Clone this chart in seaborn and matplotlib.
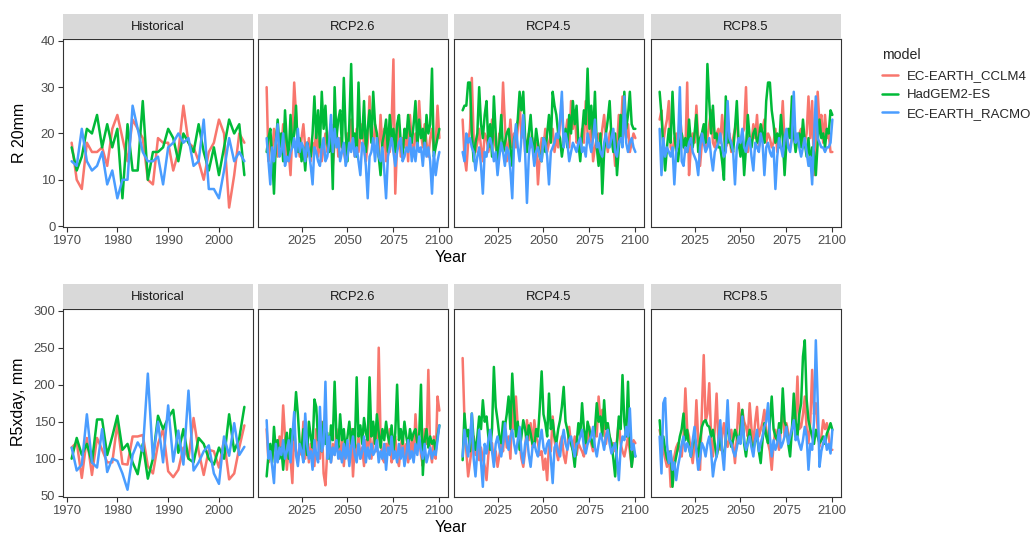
import numpy as np
import pandas as pd
import matplotlib
matplotlib.use("Agg")
import matplotlib.pyplot as plt
import seaborn as sns
from matplotlib.lines import Line2D

# ---------------- data ----------------
models = ["EC-EARTH_CCLM4", "HadGEM2-ES", "EC-EARTH_RACMO"]
scenarios = ["Historical", "RCP2.6", "RCP4.5", "RCP8.5"]
variables = ["R 20mm", "R5xday, mm"]
hist_years = list(range(1971, 2006))
fut_years = list(range(2006, 2101))

# R 20mm ----------------------------------------------------------
r20_hist_cclm4 = [18, 10, 8, 18, 16, 16, 17, 13, 21, 24, 19, 14, 23, 21, 19, 10, 9, 19, 18, 18,
                  12, 16, 26, 18, 17, 14, 10, 16, 18, 23, 20, 4, 11, 20, 18]
r20_hist_hadgem = [17, 12, 15, 21, 20, 24, 17, 22, 17, 21, 6, 22, 12, 12, 27, 10, 16, 16, 17, 21,
                   19, 14, 20, 18, 16, 22, 16, 12, 17, 11, 17, 23, 20, 22, 11]
r20_hist_racmo = [14, 13, 21, 14, 12, 13, 16, 9, 12, 6, 10, 10, 26, 21, 16, 14, 14, 15, 9, 17,
                  18, 20, 18, 19, 13, 14, 23, 8, 8, 6, 12, 19, 14, 16, 14]

r20_rcp26_cclm4 = [30, 14, 19, 16, 21, 18, 15, 20, 17, 22,
                   18, 14, 16, 11, 20, 31, 24, 18, 15, 19,
                   22, 17, 15, 19, 14, 18, 16, 21, 15, 19,
                   14, 17, 20, 16, 19, 22, 13, 18, 21, 15,
                   19, 17, 16, 14, 20, 17, 23, 18, 15, 21,
                   16, 19, 22, 17, 14, 18, 28, 20, 17, 22,
                   19, 15, 24, 17, 21, 14, 19, 16, 22, 36,
                   7, 18, 22, 15, 19, 17, 21, 14, 24, 18,
                   16, 20, 19, 27, 20, 17, 22, 18, 15, 19,
                   21, 16, 18, 26, 19]
r20_rcp26_hadgem = [16, 19, 21, 15, 7, 18, 23, 17, 20, 14,
                    25, 18, 15, 24, 17, 20, 26, 16, 19, 14,
                    17, 12, 18, 16, 15, 20, 28, 19, 25, 17,
                    29, 21, 26, 18, 16, 22, 8, 30, 19, 23,
                    25, 17, 32, 20, 14, 22, 35, 18, 20, 15,
                    31, 19, 19, 27, 16, 21, 25, 18, 29, 22,
                    20, 15, 11, 18, 20, 23, 16, 24, 19, 21,
                    16, 22, 24, 18, 15, 21, 19, 24, 20, 18,
                    22, 27, 17, 23, 19, 21, 16, 24, 20, 22,
                    34, 15, 17, 19, 21]
r20_rcp26_racmo = [19, 14, 9, 17, 14, 18, 22, 15, 16, 20,
                   13, 15, 14, 16, 17, 19, 15, 21, 16, 18,
                   17, 14, 18, 16, 13, 9, 17, 16, 14, 13,
                   17, 19, 14, 15, 18, 24, 16, 21, 17, 19,
                   14, 16, 18, 13, 15, 18, 16, 19, 15, 17,
                   14, 11, 18, 17, 13, 6, 15, 16, 19, 14,
                   19, 15, 14, 17, 12, 6, 15, 17, 19, 16,
                   13, 16, 18, 19, 14, 15, 17, 16, 19, 14,
                   17, 14, 18, 16, 17, 13, 18, 15, 17, 14,
                   7, 16, 11, 14, 16]

r20_rcp45_cclm4 = [23, 15, 12, 18, 21, 32, 19, 16, 18, 21,
                   17, 14, 20, 19, 16, 18, 23, 19, 17, 15,
                   20, 19, 31, 22, 14, 18, 23, 17, 20, 17,
                   21, 27, 19, 22, 16, 18, 20, 17, 19, 14,
                   18, 9, 15, 19, 17, 21, 16, 18, 20, 21,
                   16, 19, 17, 22, 27, 18, 20, 23, 17, 27,
                   21, 25, 18, 19, 16, 21, 18, 27, 20, 18,
                   22, 14, 17, 19, 20, 17, 21, 24, 19, 16,
                   20, 21, 18, 13, 17, 24, 19, 28, 21, 19,
                   22, 16, 18, 20, 19]
r20_rcp45_hadgem = [25, 26, 26, 31, 31, 20, 14, 18, 20, 30,
                    22, 19, 24, 27, 17, 22, 15, 28, 20, 13,
                    18, 24, 16, 18, 20, 21, 17, 13, 19, 20,
                    23, 29, 25, 29, 19, 16, 20, 24, 18, 16,
                    21, 18, 15, 14, 19, 16, 20, 24, 18, 29,
                    26, 24, 20, 19, 15, 18, 21, 17, 24, 20,
                    27, 22, 26, 18, 14, 20, 25, 22, 34, 21,
                    26, 19, 29, 17, 13, 20, 7, 16, 20, 23,
                    27, 19, 16, 20, 11, 17, 24, 18, 29, 21,
                    24, 29, 22, 21, 21]
r20_rcp45_racmo = [16, 14, 20, 18, 19, 17, 16, 12, 15, 17,
                   13, 7, 16, 15, 18, 19, 17, 14, 16, 11,
                   15, 18, 16, 13, 17, 16, 12, 6, 18, 22,
                   17, 14, 19, 24, 16, 5, 15, 19, 17, 13,
                   16, 17, 15, 14, 19, 18, 15, 9, 16, 17,
                   18, 20, 19, 23, 29, 17, 20, 18, 14, 16,
                   18, 17, 16, 18, 19, 16, 17, 15, 20, 18,
                   16, 19, 23, 17, 18, 16, 15, 18, 20, 17,
                   17, 19, 21, 16, 15, 18, 19, 17, 28, 18,
                   16, 18, 19, 17, 16]

r20_rcp85_cclm4 = [23, 25, 18, 21, 23, 27, 17, 16, 19, 20,
                   18, 24, 20, 18, 16, 31, 11, 17, 20, 18,
                   26, 19, 13, 18, 21, 17, 19, 22, 25, 18,
                   17, 20, 21, 18, 24, 19, 17, 18, 20, 16,
                   19, 21, 23, 17, 18, 20, 21, 30, 16, 19,
                   18, 22, 19, 24, 17, 19, 21, 23, 18, 20,
                   19, 17, 18, 21, 16, 19, 20, 27, 18, 20,
                   17, 17, 19, 23, 18, 19, 20, 21, 17, 18,
                   20, 28, 19, 27, 11, 20, 29, 22, 24, 18,
                   24, 19, 20, 16, 16]
r20_rcp85_hadgem = [29, 24, 17, 12, 17, 21, 18, 29, 20, 16,
                    14, 18, 20, 17, 19, 16, 23, 18, 17, 20,
                    24, 16, 19, 20, 22, 18, 35, 27, 20, 26,
                    19, 20, 17, 17, 14, 10, 28, 18, 19, 17,
                    16, 21, 27, 18, 15, 19, 11, 17, 24, 19,
                    17, 20, 21, 18, 19, 22, 20, 18, 27, 31,
                    31, 25, 22, 18, 20, 17, 24, 19, 11, 18,
                    21, 19, 28, 20, 16, 19, 20, 17, 23, 18,
                    15, 19, 13, 17, 16, 11, 18, 23, 19, 20,
                    17, 21, 20, 25, 24]
r20_rcp85_racmo = [21, 11, 19, 15, 17, 16, 15, 17, 9, 16,
                   18, 30, 14, 13, 17, 16, 18, 19, 16, 15,
                   14, 11, 17, 20, 18, 16, 17, 19, 15, 12,
                   16, 17, 18, 20, 17, 15, 16, 27, 19, 18,
                   16, 9, 17, 19, 18, 21, 17, 16, 18, 19,
                   15, 12, 18, 17, 16, 20, 18, 11, 17, 18,
                   16, 15, 17, 8, 15, 19, 17, 15, 19, 21,
                   17, 16, 19, 29, 18, 20, 17, 15, 17, 19,
                   16, 13, 15, 9, 19, 28, 19, 18, 17, 17,
                   16, 17, 17, 18, 23]

# R5xday, mm ------------------------------------------------------
r5_hist_cclm4 = [115, 122, 74, 128, 78, 128, 112, 95, 95, 148, 93, 92, 130, 130, 132, 90, 80, 120,
                 140, 83, 75, 85, 115, 100, 155, 110, 78, 112, 110, 88, 125, 72, 80, 115, 145]
r5_hist_hadgem = [100, 128, 105, 120, 95, 153, 153, 105, 130, 158, 112, 120, 95, 79, 120, 73, 100,
                  158, 140, 155, 166, 108, 140, 100, 95, 128, 120, 100, 92, 115, 100, 160, 110, 128, 170]
r5_hist_racmo = [115, 84, 92, 160, 95, 88, 140, 82, 100, 97, 80, 58, 105, 122, 110, 215, 100, 150,
                 95, 172, 96, 138, 92, 192, 84, 95, 110, 118, 80, 66, 130, 104, 148, 105, 116]

r5_rcp26_cclm4 = [140, 95, 110, 100, 120, 125, 98, 130, 115, 172,
                  130, 85, 115, 100, 67, 140, 110, 95, 120, 105,
                  150, 100, 130, 95, 120, 110, 90, 140, 125, 100,
                  150, 80, 64, 110, 130, 95, 120, 105, 140, 115,
                  100, 130, 90, 120, 110, 95, 140, 76, 120, 105,
                  130, 100, 115, 90, 125, 110, 150, 100, 120, 140,
                  110, 250, 130, 100, 95, 120, 110, 140, 95, 105,
                  130, 100, 90, 115, 135, 100, 120, 95, 110, 125,
                  100, 160, 115, 130, 105, 90, 140, 120, 220, 110,
                  95, 130, 100, 184, 165]
r5_rcp26_hadgem = [76, 105, 120, 95, 143, 110, 125, 100, 115, 85,
                   120, 135, 100, 140, 125, 150, 190, 160, 120, 110,
                   140, 125, 105, 150, 130, 115, 180, 170, 125, 140,
                   110, 150, 120, 135, 100, 145, 125, 204, 130, 115,
                   160, 125, 140, 110, 130, 150, 120, 140, 115, 210,
                   130, 145, 120, 155, 135, 125, 210, 130, 150, 120,
                   160, 135, 115, 140, 125, 150, 130, 120, 145, 110,
                   135, 200, 125, 140, 120, 150, 130, 115, 140, 125,
                   135, 140, 120, 130, 200, 78, 125, 140, 115, 130,
                   120, 125, 110, 130, 145]
r5_rcp26_racmo = [152, 100, 110, 90, 67, 120, 95, 115, 105, 125,
                  100, 110, 125, 95, 130, 163, 105, 90, 120, 110,
                  95, 161, 120, 100, 110, 85, 125, 105, 95, 170,
                  110, 120, 204, 100, 130, 95, 115, 105, 125, 100,
                  110, 95, 120, 100, 125, 90, 115, 130, 105, 95,
                  120, 100, 110, 130, 95, 115, 100, 120, 105, 110,
                  125, 95, 110, 100, 120, 85, 115, 105, 130, 100,
                  110, 95, 120, 100, 115, 90, 105, 125, 100, 110,
                  95, 120, 105, 130, 110, 100, 120, 95, 105, 115,
                  100, 110, 105, 125, 145]

r5_rcp45_cclm4 = [236, 152, 110, 76, 95, 115, 130, 105, 120, 98,
                  115, 100, 90, 71, 105, 120, 121, 95, 110, 89,
                  105, 120, 110, 148, 115, 130, 100, 175, 140, 184,
                  143, 120, 100, 89, 110, 152, 125, 148, 115, 152,
                  130, 121, 105, 110, 85, 100, 71, 120, 110, 157,
                  125, 110, 98, 120, 130, 105, 94, 115, 143, 120,
                  112, 130, 105, 121, 115, 110, 103, 125, 120, 143,
                  120, 110, 143, 130, 184, 150, 166, 140, 120, 139,
                  130, 115, 121, 110, 125, 152, 120, 110, 103, 115,
                  130, 110, 89, 125, 121]
r5_rcp45_hadgem = [98, 161, 130, 139, 110, 161, 125, 112, 130, 157,
                   140, 179, 150, 157, 130, 112, 140, 224, 170, 152,
                   130, 121, 150, 143, 160, 184, 140, 215, 170, 130,
                   150, 112, 130, 152, 140, 121, 145, 134, 120, 116,
                   140, 130, 170, 218, 160, 148, 130, 188, 140, 152,
                   130, 121, 140, 152, 170, 197, 150, 139, 125, 121,
                   110, 89, 120, 148, 130, 175, 140, 121, 150, 139,
                   125, 116, 140, 175, 150, 157, 130, 179, 140, 148,
                   130, 121, 100, 76, 120, 157, 140, 213, 150, 130,
                   204, 120, 89, 110, 103]
r5_rcp45_racmo = [103, 139, 120, 103, 125, 161, 100, 76, 110, 139,
                  95, 62, 120, 107, 125, 139, 110, 89, 120, 130,
                  115, 103, 120, 148, 125, 112, 130, 139, 120, 107,
                  125, 143, 110, 94, 120, 130, 105, 89, 115, 121,
                  110, 103, 125, 139, 115, 107, 120, 125, 100, 67,
                  115, 121, 110, 103, 125, 139, 120, 112, 125, 130,
                  115, 103, 120, 121, 130, 139, 115, 107, 120, 125,
                  130, 143, 115, 103, 120, 134, 125, 112, 130, 139,
                  120, 107, 115, 121, 100, 71, 115, 130, 125, 143,
                  130, 168, 112, 120, 103]

r5_rcp85_cclm4 = [139, 125, 112, 100, 89, 110, 62, 95, 103, 115,
                  121, 110, 103, 130, 195, 140, 130, 110, 94, 120,
                  179, 125, 85, 166, 240, 150, 161, 202, 130, 103,
                  140, 188, 120, 112, 130, 148, 125, 116, 130, 139,
                  120, 94, 130, 175, 140, 166, 150, 143, 130, 175,
                  140, 121, 150, 170, 130, 139, 150, 166, 140, 121,
                  110, 85, 120, 139, 125, 112, 140, 175, 130, 148,
                  135, 121, 140, 166, 150, 211, 140, 143, 160, 184,
                  140, 121, 150, 220, 160, 175, 140, 116, 130, 152,
                  140, 148, 130, 112, 112]
r5_rcp85_hadgem = [152, 121, 130, 112, 100, 94, 110, 62, 90, 103,
                   115, 130, 140, 161, 125, 139, 115, 103, 120, 130,
                   115, 103, 125, 143, 150, 152, 145, 143, 130, 139,
                   120, 103, 115, 130, 110, 103, 125, 148, 130, 116,
                   125, 139, 130, 121, 140, 166, 120, 103, 125, 139,
                   120, 112, 125, 130, 110, 94, 125, 148, 130, 121,
                   150, 184, 140, 130, 125, 148, 135, 195, 150, 143,
                   120, 103, 140, 188, 150, 130, 160, 175, 238, 260,
                   180, 152, 140, 130, 120, 139, 130, 121, 125, 130,
                   120, 134, 140, 148, 139]
r5_rcp85_racmo = [130, 80, 175, 182, 120, 94, 110, 85, 95, 71,
                  90, 103, 120, 130, 110, 121, 115, 103, 125, 143,
                  110, 85, 100, 121, 115, 103, 120, 130, 110, 76,
                  95, 103, 125, 152, 110, 85, 130, 179, 125, 121,
                  110, 103, 115, 130, 120, 157, 125, 112, 120, 130,
                  115, 103, 125, 139, 110, 121, 130, 143, 150, 175,
                  130, 103, 125, 112, 120, 139, 115, 121, 130, 143,
                  120, 130, 140, 152, 125, 130, 120, 112, 125, 143,
                  130, 85, 120, 112, 150, 260, 180, 89, 110, 121,
                  130, 112, 120, 107, 139]

series = {
    ("R 20mm", "Historical"): [r20_hist_cclm4, r20_hist_hadgem, r20_hist_racmo],
    ("R 20mm", "RCP2.6"): [r20_rcp26_cclm4, r20_rcp26_hadgem, r20_rcp26_racmo],
    ("R 20mm", "RCP4.5"): [r20_rcp45_cclm4, r20_rcp45_hadgem, r20_rcp45_racmo],
    ("R 20mm", "RCP8.5"): [r20_rcp85_cclm4, r20_rcp85_hadgem, r20_rcp85_racmo],
    ("R5xday, mm", "Historical"): [r5_hist_cclm4, r5_hist_hadgem, r5_hist_racmo],
    ("R5xday, mm", "RCP2.6"): [r5_rcp26_cclm4, r5_rcp26_hadgem, r5_rcp26_racmo],
    ("R5xday, mm", "RCP4.5"): [r5_rcp45_cclm4, r5_rcp45_hadgem, r5_rcp45_racmo],
    ("R5xday, mm", "RCP8.5"): [r5_rcp85_cclm4, r5_rcp85_hadgem, r5_rcp85_racmo],
}

records = []
for (var, scen), vals in series.items():
    yrs = hist_years if scen == "Historical" else fut_years
    for m, v in zip(models, vals):
        for yr, val in zip(yrs, v):
            records.append((var, scen, m, yr, val))
df = pd.DataFrame(records, columns=["variable", "scenario", "model", "year", "value"])

# ---------------- style ----------------
sns.set_theme(style="white")
plt.rcParams["font.family"] = ["Liberation Sans", "DejaVu Sans"]
palette = dict(zip(models, ["#F8766D", "#00BA38", "#4A9DFF"]))
LW = 1.8

W, H = 1035, 533
fig = plt.figure(figsize=(W / 100, H / 100), dpi=100)
fig.patch.set_facecolor("white")

panel_x = [63, 258, 454, 651]
pw = 190
row_box = [(39, 227), (309, 497)]
ylims = [(-0.2, 40.4), (48.2, 302.3)]
yticks = [[0, 10, 20, 30, 40], [50, 100, 150, 200, 250, 300]]
ylab_y = [133, 402]
year_y = [258, 527]
strip_h = 25

for r, var in enumerate(variables):
    top, bot = row_box[r]
    for c, scen in enumerate(scenarios):
        ax = fig.add_axes([panel_x[c] / W, 1 - bot / H, pw / W, (bot - top) / H])
        sub = df[(df.variable == var) & (df.scenario == scen)]
        sns.lineplot(data=sub, x="year", y="value", hue="model", hue_order=models,
                     palette=palette, estimator=None, linewidth=LW, legend=False, ax=ax)
        if scen == "Historical":
            ax.set_xlim(1969.3, 2006.7)
            ax.set_xticks([1970, 1980, 1990, 2000])
        else:
            ax.set_xlim(2001.3, 2104.7)
            ax.set_xticks([2025, 2050, 2075, 2100])
        ax.set_ylim(*ylims[r])
        ax.set_yticks(yticks[r])
        ax.set_xlabel("")
        ax.set_ylabel("")
        ax.set_facecolor("white")
        for s in ax.spines.values():
            s.set_color("#333333")
            s.set_linewidth(0.8)
        ax.tick_params(axis="both", which="both", length=3.5, width=0.8, color="#333333",
                       labelcolor="#4D4D4D", labelsize=9.4, pad=2, direction="out",
                       bottom=True, left=True)
        if c > 0:
            ax.tick_params(axis="y", left=False, labelleft=False)
        # strip
        sax = fig.add_axes([panel_x[c] / W, 1 - top / H, pw / W, strip_h / H])
        sax.set_facecolor("#D9D9D9")
        sax.set_xticks([])
        sax.set_yticks([])
        for s in sax.spines.values():
            s.set_visible(False)
        sax.text(0.5, 0.5, scen, ha="center", va="center", fontsize=9.4, color="#1A1A1A",
                 transform=sax.transAxes)
    fig.text(19 / W, 1 - ylab_y[r] / H, var, rotation=90, ha="center", va="center",
             fontsize=11.5, color="black")
    fig.text(451 / W, 1 - year_y[r] / H, "Year", ha="center", va="center",
             fontsize=11.5, color="black")

handles = [Line2D([0], [0], color=palette[m], linewidth=LW) for m in models]
leg = fig.legend(handles, models, title="model", loc="upper left",
                 bbox_to_anchor=(882 / W, 1 - 48 / H), frameon=False, fontsize=9.5,
                 title_fontsize=10.2, handlelength=1.25, handletextpad=0.6,
                 labelspacing=0.48, alignment="left", borderpad=0, borderaxespad=0)
leg._legend_box.sep = 6

fig.savefig("out.png", dpi=100, facecolor="white")
